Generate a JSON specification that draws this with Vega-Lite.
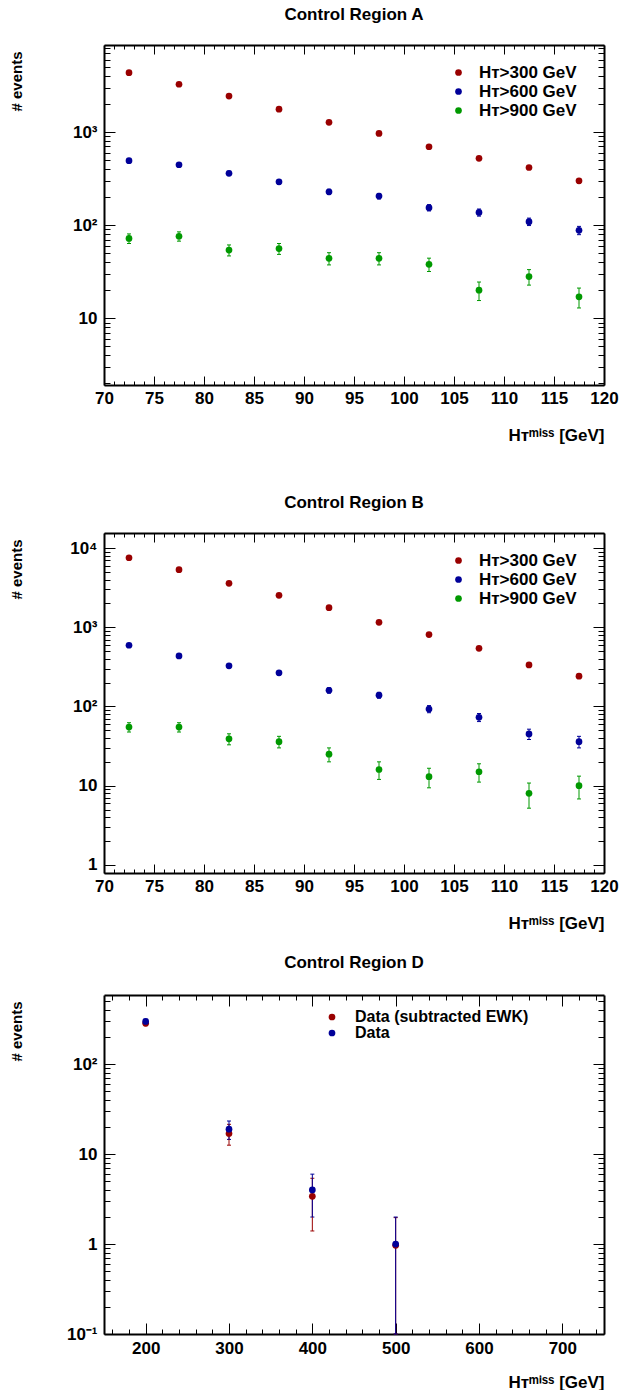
{
  "$schema": "https://vega.github.io/schema/vega-lite/v6.json",
  "padding": {"left": 9, "top": 5, "right": 5, "bottom": 0},
  "background": "white",
  "config": {
    "font": "Liberation Sans",
    "view": {"stroke": null},
    "axis": {"labelFont": "Liberation Sans", "labelFontSize": 17, "labelFontWeight": "bold", "labelColor": "black",
             "titleFont": "Liberation Sans", "titleFontSize": 17, "titleFontWeight": "bold", "titleColor": "black",
             "domainColor": "black", "domainWidth": 2, "tickColor": "black", "tickWidth": 1, "grid": false,
             "labelFlush": false, "labelOverlap": false, "labelBound": false},
    "title": {"font": "Liberation Sans", "fontSize": 17, "fontWeight": "bold", "color": "black", "anchor": "middle", "baseline": "alphabetic", "offset": 25, "frame": "group"},
    "legend": {"labelFont": "Liberation Sans", "labelFontSize": 17, "labelFontWeight": "bold", "labelColor": "black", "symbolType": "circle", "symbolSize": 45, "symbolStrokeWidth": 0, "symbolOpacity": 1, "padding": 0, "rowPadding": 1, "labelLimit": 300}
  },
  "datasets": {
    "A": [
      {"x": 72.5, "n": 4340, "lo": 4274, "hi": 4406, "s": "300"},
      {"x": 77.5, "n": 3260, "lo": 3203, "hi": 3317, "s": "300"},
      {"x": 82.5, "n": 2430, "lo": 2381, "hi": 2479, "s": "300"},
      {"x": 87.5, "n": 1760, "lo": 1718, "hi": 1802, "s": "300"},
      {"x": 92.5, "n": 1270, "lo": 1234, "hi": 1306, "s": "300"},
      {"x": 97.5, "n": 967, "lo": 936, "hi": 998, "s": "300"},
      {"x": 102.5, "n": 695, "lo": 669, "hi": 721, "s": "300"},
      {"x": 107.5, "n": 522, "lo": 499, "hi": 545, "s": "300"},
      {"x": 112.5, "n": 416, "lo": 396, "hi": 436, "s": "300"},
      {"x": 117.5, "n": 299, "lo": 282, "hi": 316, "s": "300"},
      {"x": 72.5, "n": 492, "lo": 470, "hi": 514, "s": "600"},
      {"x": 77.5, "n": 445, "lo": 424, "hi": 466, "s": "600"},
      {"x": 82.5, "n": 360, "lo": 341, "hi": 379, "s": "600"},
      {"x": 87.5, "n": 292, "lo": 275, "hi": 309, "s": "600"},
      {"x": 92.5, "n": 228, "lo": 213, "hi": 243, "s": "600"},
      {"x": 97.5, "n": 205, "lo": 191, "hi": 219, "s": "600"},
      {"x": 102.5, "n": 154, "lo": 142, "hi": 166, "s": "600"},
      {"x": 107.5, "n": 137, "lo": 125, "hi": 149, "s": "600"},
      {"x": 112.5, "n": 109, "lo": 99, "hi": 119, "s": "600"},
      {"x": 117.5, "n": 88, "lo": 79, "hi": 97, "s": "600"},
      {"x": 72.5, "n": 72, "lo": 63.5, "hi": 80.5, "s": "900"},
      {"x": 77.5, "n": 76, "lo": 67.3, "hi": 84.7, "s": "900"},
      {"x": 82.5, "n": 54, "lo": 46.7, "hi": 61.3, "s": "900"},
      {"x": 87.5, "n": 56, "lo": 48.5, "hi": 63.5, "s": "900"},
      {"x": 92.5, "n": 44, "lo": 37.4, "hi": 50.6, "s": "900"},
      {"x": 97.5, "n": 44, "lo": 37.4, "hi": 50.6, "s": "900"},
      {"x": 102.5, "n": 38, "lo": 31.8, "hi": 44.2, "s": "900"},
      {"x": 107.5, "n": 20, "lo": 15.5, "hi": 24.5, "s": "900"},
      {"x": 112.5, "n": 28, "lo": 22.7, "hi": 33.3, "s": "900"},
      {"x": 117.5, "n": 17, "lo": 12.9, "hi": 21.1, "s": "900"}
    ],
    "B": [
      {"x": 72.5, "n": 7550, "lo": 7463, "hi": 7637, "s": "300"},
      {"x": 77.5, "n": 5335, "lo": 5262, "hi": 5408, "s": "300"},
      {"x": 82.5, "n": 3590, "lo": 3530, "hi": 3650, "s": "300"},
      {"x": 87.5, "n": 2530, "lo": 2480, "hi": 2580, "s": "300"},
      {"x": 92.5, "n": 1770, "lo": 1728, "hi": 1812, "s": "300"},
      {"x": 97.5, "n": 1156, "lo": 1122, "hi": 1190, "s": "300"},
      {"x": 102.5, "n": 809, "lo": 781, "hi": 837, "s": "300"},
      {"x": 107.5, "n": 543, "lo": 520, "hi": 566, "s": "300"},
      {"x": 112.5, "n": 335, "lo": 317, "hi": 353, "s": "300"},
      {"x": 117.5, "n": 241, "lo": 225.5, "hi": 256.5, "s": "300"},
      {"x": 72.5, "n": 593, "lo": 569, "hi": 617, "s": "600"},
      {"x": 77.5, "n": 435, "lo": 414, "hi": 456, "s": "600"},
      {"x": 82.5, "n": 326, "lo": 308, "hi": 344, "s": "600"},
      {"x": 87.5, "n": 266, "lo": 250, "hi": 282, "s": "600"},
      {"x": 92.5, "n": 160, "lo": 147.4, "hi": 172.6, "s": "600"},
      {"x": 97.5, "n": 139, "lo": 127.2, "hi": 150.8, "s": "600"},
      {"x": 102.5, "n": 93, "lo": 83.4, "hi": 102.6, "s": "600"},
      {"x": 107.5, "n": 73, "lo": 64.5, "hi": 81.5, "s": "600"},
      {"x": 112.5, "n": 45, "lo": 38.3, "hi": 51.7, "s": "600"},
      {"x": 117.5, "n": 36, "lo": 30, "hi": 42, "s": "600"},
      {"x": 72.5, "n": 55, "lo": 47.6, "hi": 62.4, "s": "900"},
      {"x": 77.5, "n": 55, "lo": 47.6, "hi": 62.4, "s": "900"},
      {"x": 82.5, "n": 39, "lo": 32.8, "hi": 45.2, "s": "900"},
      {"x": 87.5, "n": 36, "lo": 30, "hi": 42, "s": "900"},
      {"x": 92.5, "n": 25, "lo": 20, "hi": 30, "s": "900"},
      {"x": 97.5, "n": 16, "lo": 12, "hi": 20, "s": "900"},
      {"x": 102.5, "n": 13, "lo": 9.4, "hi": 16.6, "s": "900"},
      {"x": 107.5, "n": 15, "lo": 11.1, "hi": 18.9, "s": "900"},
      {"x": 112.5, "n": 8, "lo": 5.2, "hi": 10.8, "s": "900"},
      {"x": 117.5, "n": 10, "lo": 6.8, "hi": 13.2, "s": "900"}
    ],
    "D": [
      {"x": 200, "n": 286, "lo": 269, "hi": 303, "s": "Data (subtracted EWK)"},
      {"x": 300, "n": 17, "lo": 12.6, "hi": 21.5, "s": "Data (subtracted EWK)"},
      {"x": 400, "n": 3.4, "lo": 1.4, "hi": 5.4, "s": "Data (subtracted EWK)"},
      {"x": 500, "n": 0.97, "lo": 0.1, "hi": 1.97, "s": "Data (subtracted EWK)"},
      {"x": 200, "n": 300, "lo": 283, "hi": 317, "s": "Data"},
      {"x": 300, "n": 19, "lo": 14.6, "hi": 23.4, "s": "Data"},
      {"x": 400, "n": 4, "lo": 2, "hi": 6, "s": "Data"},
      {"x": 500, "n": 1, "lo": 0.1, "hi": 2, "s": "Data"}
    ]
  },
  "spacing": 50,
  "resolve": {"scale": {"color": "independent"}, "legend": {"color": "independent"}},
  "vconcat": [
    {
      "width": 500, "height": 340,
      "title": {"text": "Control Region A", "offset": 15},
      "data": {"name": "A"},
      "layer": [
        {
          "mark": {"type": "errorbar", "thickness": 1, "opacity": 1, "rule": {"opacity": 1}, "ticks": {"size": 4, "opacity": 1}},
          "encoding": {
            "x": {"field": "x", "type": "quantitative", "scale": {"domain": [70, 120], "nice": false, "zero": false},
                  "axis": {"orient": "bottom", "title": "Hᴛᵐⁱˢˢ  [GeV]", "values": [70,71,72,73,74,75,76,77,78,79,80,81,82,83,84,85,86,87,88,89,90,91,92,93,94,95,96,97,98,99,100,101,102,103,104,105,106,107,108,109,110,111,112,113,114,115,116,117,118,119,120],
                           "labelExpr": "datum.value % 5 == 0 ? datum.label : ''",
                           "tickSize": {"condition": {"test": "datum.value % 5 == 0", "value": -9}, "value": -4},
                           "labelPadding": 14, "titleX": 500, "titleY": 55, "titleAlign": "right", "titleBaseline": "alphabetic", "titleAngle": 0}},
            "y": {"field": "lo", "type": "quantitative", "scale": {"type": "log", "domain": [1.92, 8600], "nice": false},
                  "axis": {"orient": "left", "title": "# events", "values": [2,3,4,5,6,7,8,9,10,20,30,40,50,60,70,80,90,100,200,300,400,500,600,700,800,900,1000,2000,3000,4000,5000,6000,7000,8000],
                           "labelExpr": "datum.value==0.1?'10⁻¹':datum.value==1?'1':datum.value==10?'10':datum.value==100?'10²':datum.value==1000?'10³':datum.value==10000?'10⁴':''",
                           "tickSize": {"condition": {"test": "abs(log(datum.value)/LN10 - round(log(datum.value)/LN10)) < 0.001", "value": -11}, "value": -6},
                           "labelPadding": 18, "titleFontSize": 15, "titleX": -82.5, "titleY": 6, "titleAlign": "right", "titleAngle": -90, "titleBaseline": "alphabetic"}},
            "y2": {"field": "hi"},
            "color": {"field": "s", "type": "nominal", "scale": {"domain": ["300", "600", "900"], "range": ["#990000", "#000099", "#009900"]}}
          }
        },
        {
          "mark": {"type": "point", "filled": true, "size": 45, "opacity": 1},
          "encoding": {
            "x": {"field": "x", "type": "quantitative", "scale": {"domain": [70, 120], "nice": false, "zero": false},
                  "axis": {"orient": "top", "title": null, "labels": false, "values": [70,71,72,73,74,75,76,77,78,79,80,81,82,83,84,85,86,87,88,89,90,91,92,93,94,95,96,97,98,99,100,101,102,103,104,105,106,107,108,109,110,111,112,113,114,115,116,117,118,119,120],
                           "tickSize": {"condition": {"test": "datum.value % 5 == 0", "value": -9}, "value": -4}}},
            "y": {"field": "n", "type": "quantitative", "scale": {"type": "log", "domain": [1.92, 8600], "nice": false},
                  "axis": {"orient": "right", "title": null, "labels": false, "values": [2,3,4,5,6,7,8,9,10,20,30,40,50,60,70,80,90,100,200,300,400,500,600,700,800,900,1000,2000,3000,4000,5000,6000,7000,8000],
                           "tickSize": {"condition": {"test": "abs(log(datum.value)/LN10 - round(log(datum.value)/LN10)) < 0.001", "value": -11}, "value": -6}}},
            "color": {"field": "s", "type": "nominal", "scale": {"domain": ["300", "600", "900"], "range": ["#990000", "#000099", "#009900"]},
                      "legend": {"title": null, "orient": "none", "legendX": 346, "legendY": 19, "labelOffset": 12, "labelExpr": "'Hᴛ>' + datum.label + ' GeV'"}}
          }
        }
      ],
      "resolve": {"axis": {"x": "independent", "y": "independent"}}
    },
    {
      "spacing": 23,
      "resolve": {"scale": {"color": "independent"}, "legend": {"color": "independent"}},
      "vconcat": [
        {
          "width": 500, "height": 340,
          "title": {"text": "Control Region B", "offset": 21},
          "data": {"name": "B"},
          "layer": [
            {
              "mark": {"type": "errorbar", "thickness": 1, "opacity": 1, "rule": {"opacity": 1}, "ticks": {"size": 4, "opacity": 1}},
              "encoding": {
                "x": {"field": "x", "type": "quantitative", "scale": {"domain": [70, 120], "nice": false, "zero": false},
                      "axis": {"orient": "bottom", "title": "Hᴛᵐⁱˢˢ  [GeV]", "values": [70,71,72,73,74,75,76,77,78,79,80,81,82,83,84,85,86,87,88,89,90,91,92,93,94,95,96,97,98,99,100,101,102,103,104,105,106,107,108,109,110,111,112,113,114,115,116,117,118,119,120],
                               "labelExpr": "datum.value % 5 == 0 ? datum.label : ''",
                               "tickSize": {"condition": {"test": "datum.value % 5 == 0", "value": -9}, "value": -4},
                               "labelPadding": 14, "titleX": 500, "titleY": 55, "titleAlign": "right", "titleBaseline": "alphabetic", "titleAngle": 0}},
                "y": {"field": "lo", "type": "quantitative", "scale": {"type": "log", "domain": [0.79, 15500], "nice": false},
                      "axis": {"orient": "left", "title": "# events", "values": [1,2,3,4,5,6,7,8,9,10,20,30,40,50,60,70,80,90,100,200,300,400,500,600,700,800,900,1000,2000,3000,4000,5000,6000,7000,8000,9000,10000],
                               "labelExpr": "datum.value==0.1?'10⁻¹':datum.value==1?'1':datum.value==10?'10':datum.value==100?'10²':datum.value==1000?'10³':datum.value==10000?'10⁴':''",
                               "tickSize": {"condition": {"test": "abs(log(datum.value)/LN10 - round(log(datum.value)/LN10)) < 0.001", "value": -11}, "value": -6},
                               "labelPadding": 18, "titleFontSize": 15, "titleX": -82.5, "titleY": 6, "titleAlign": "right", "titleAngle": -90, "titleBaseline": "alphabetic"}},
                "y2": {"field": "hi"},
                "color": {"field": "s", "type": "nominal", "scale": {"domain": ["300", "600", "900"], "range": ["#990000", "#000099", "#009900"]}}
              }
            },
            {
              "mark": {"type": "point", "filled": true, "size": 45, "opacity": 1},
              "encoding": {
                "x": {"field": "x", "type": "quantitative", "scale": {"domain": [70, 120], "nice": false, "zero": false},
                      "axis": {"orient": "top", "title": null, "labels": false, "values": [70,71,72,73,74,75,76,77,78,79,80,81,82,83,84,85,86,87,88,89,90,91,92,93,94,95,96,97,98,99,100,101,102,103,104,105,106,107,108,109,110,111,112,113,114,115,116,117,118,119,120],
                               "tickSize": {"condition": {"test": "datum.value % 5 == 0", "value": -9}, "value": -4}}},
                "y": {"field": "n", "type": "quantitative", "scale": {"type": "log", "domain": [0.79, 15500], "nice": false},
                      "axis": {"orient": "right", "title": null, "labels": false, "values": [1,2,3,4,5,6,7,8,9,10,20,30,40,50,60,70,80,90,100,200,300,400,500,600,700,800,900,1000,2000,3000,4000,5000,6000,7000,8000,9000,10000],
                               "tickSize": {"condition": {"test": "abs(log(datum.value)/LN10 - round(log(datum.value)/LN10)) < 0.001", "value": -11}, "value": -6}}},
                "color": {"field": "s", "type": "nominal", "scale": {"domain": ["300", "600", "900"], "range": ["#990000", "#000099", "#009900"]},
                          "legend": {"title": null, "orient": "none", "legendX": 346, "legendY": 19, "labelOffset": 12, "labelExpr": "'Hᴛ>' + datum.label + ' GeV'"}}
              }
            }
          ],
          "resolve": {"axis": {"x": "independent", "y": "independent"}}
        },
        {
          "width": 500, "height": 339,
          "title": {"text": "Control Region D", "offset": 20},
          "data": {"name": "D"},
          "layer": [
            {
              "mark": {"type": "errorbar", "thickness": 1, "opacity": 1, "rule": {"opacity": 1}, "ticks": {"size": 4, "opacity": 1}},
              "encoding": {
                "x": {"field": "x", "type": "quantitative", "scale": {"domain": [150, 750], "nice": false, "zero": false},
                      "axis": {"orient": "bottom", "title": "Hᴛᵐⁱˢˢ  [GeV]", "values": [160,180,200,220,240,260,280,300,320,340,360,380,400,420,440,460,480,500,520,540,560,580,600,620,640,660,680,700,720,740],
                               "labelExpr": "datum.value % 100 == 0 ? datum.label : ''",
                               "tickSize": {"condition": {"test": "datum.value % 100 == 0", "value": -11}, "value": -5},
                               "labelPadding": 17, "titleX": 500, "titleY": 53, "titleAlign": "right", "titleBaseline": "alphabetic", "titleAngle": 0}},
                "y": {"field": "lo", "type": "quantitative", "scale": {"type": "log", "domain": [0.1, 590], "nice": false},
                      "axis": {"orient": "left", "title": "# events", "values": [0.1,0.2,0.3,0.4,0.5,0.6,0.7,0.8,0.9,1,2,3,4,5,6,7,8,9,10,20,30,40,50,60,70,80,90,100,200,300,400,500],
                               "labelExpr": "datum.value==0.1?'10⁻¹':datum.value==1?'1':datum.value==10?'10':datum.value==100?'10²':datum.value==1000?'10³':datum.value==10000?'10⁴':''",
                               "tickSize": {"condition": {"test": "abs(log(datum.value)/LN10 - round(log(datum.value)/LN10)) < 0.001", "value": -11}, "value": -6},
                               "labelPadding": 18, "titleFontSize": 15, "titleX": -82.5, "titleY": 6, "titleAlign": "right", "titleAngle": -90, "titleBaseline": "alphabetic"}},
                "y2": {"field": "hi"},
                "color": {"field": "s", "type": "nominal", "scale": {"domain": ["Data (subtracted EWK)", "Data"], "range": ["#990000", "#000099"]}}
              }
            },
            {
              "mark": {"type": "point", "filled": true, "size": 45, "opacity": 1},
              "encoding": {
                "x": {"field": "x", "type": "quantitative", "scale": {"domain": [150, 750], "nice": false, "zero": false},
                      "axis": {"orient": "top", "title": null, "labels": false, "values": [160,180,200,220,240,260,280,300,320,340,360,380,400,420,440,460,480,500,520,540,560,580,600,620,640,660,680,700,720,740],
                               "tickSize": {"condition": {"test": "datum.value % 100 == 0", "value": -11}, "value": -5}}},
                "y": {"field": "n", "type": "quantitative", "scale": {"type": "log", "domain": [0.1, 590], "nice": false},
                      "axis": {"orient": "right", "title": null, "labels": false, "values": [0.1,0.2,0.3,0.4,0.5,0.6,0.7,0.8,0.9,1,2,3,4,5,6,7,8,9,10,20,30,40,50,60,70,80,90,100,200,300,400,500],
                               "tickSize": {"condition": {"test": "abs(log(datum.value)/LN10 - round(log(datum.value)/LN10)) < 0.001", "value": -11}, "value": -6}}},
                "color": {"field": "s", "type": "nominal", "scale": {"domain": ["Data (subtracted EWK)", "Data"], "range": ["#990000", "#000099"]},
                          "legend": {"title": null, "orient": "none", "legendX": 220, "legendY": 14, "labelOffset": 15, "labelFontSize": 16, "rowPadding": 0}}
              }
            }
          ],
          "resolve": {"axis": {"x": "independent", "y": "independent"}}
        }
      ]
    }
  ]
}
